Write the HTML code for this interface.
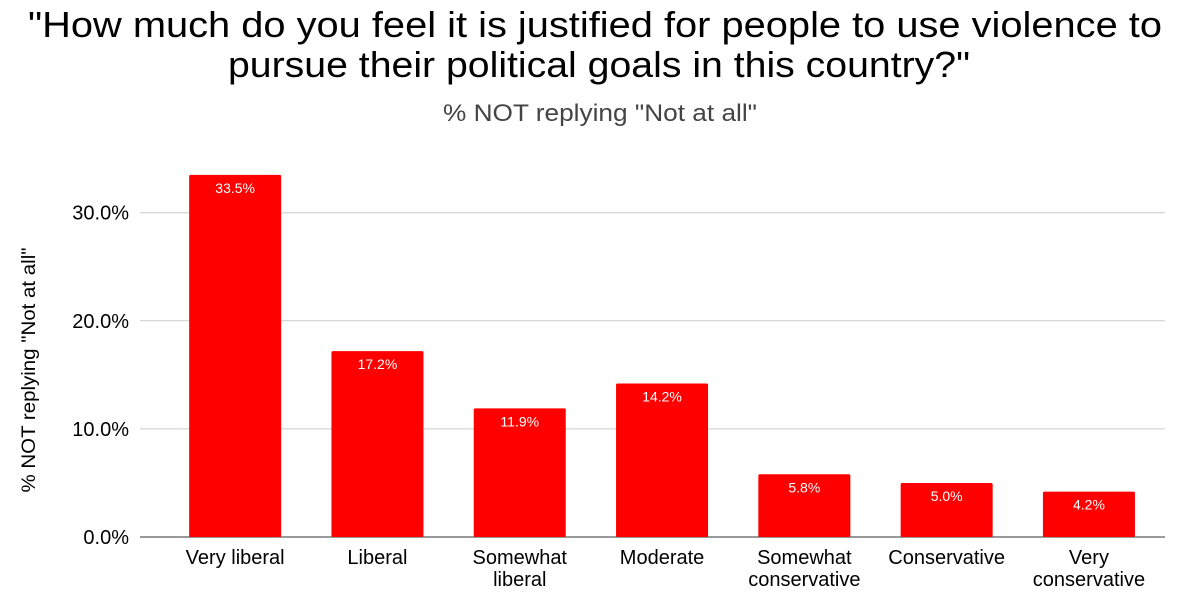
<!DOCTYPE html>
<html><head><meta charset="utf-8">
<style>
body{margin:0;background:#fff;width:1200px;height:595px;overflow:hidden;font-family:"Liberation Sans",Arial,sans-serif}
</style></head>
<body>
<svg id="chart" width="1200" height="595" xmlns="http://www.w3.org/2000/svg" font-family="Liberation Sans, Arial, sans-serif">
<text x="28" y="37" textLength="1134" lengthAdjust="spacingAndGlyphs" font-size="36" fill="#000">"How much do you feel it is justified for people to use violence to</text>
<text x="228" y="77" textLength="742" lengthAdjust="spacingAndGlyphs" font-size="36" fill="#000">pursue their political goals in this country?"</text>
<text x="443" y="121" textLength="314" lengthAdjust="spacingAndGlyphs" font-size="24" fill="#444">% NOT replying "Not at all"</text>
<text transform="translate(35,370) rotate(-90)" text-anchor="middle" font-size="19" textLength="245" lengthAdjust="spacingAndGlyphs" fill="#000">% NOT replying "Not at all"</text>
<g id="grid"></g><g id="bars"></g><g id="xlabels"></g>
</svg>
<script>
const categories=[["Very liberal"],["Liberal"],["Somewhat","liberal"],["Moderate"],["Somewhat","conservative"],["Conservative"],["Very","conservative"]];
const values=[33.5,17.2,11.9,14.2,5.8,5.0,4.2];
const ticks=[0,10,20,30];
const tickLabels=["0.0%","10.0%","20.0%","30.0%"];
const NS="http://www.w3.org/2000/svg";
const y0=537,pxPer=10.81,left=164,band=142.3,bw=92;
const y=v=>y0-v*pxPer;
const x=i=>left+band*i+band/2;
function mk(t,a,p){const e=document.createElementNS(NS,t);for(const k in a)e.setAttribute(k,a[k]);p.appendChild(e);return e;}
const grid=document.getElementById('grid');
ticks.forEach((t,i)=>{
  const l=mk('line',{x1:140,x2:1165,y1:y(t),y2:y(t),stroke:t===0?'#333':'#ccc','stroke-width':1},grid);
  
  
  const tx=mk('text',{x:129,y:y(t)+7,'text-anchor':'end','font-size':20,fill:'#000'},grid);
  tx.textContent=tickLabels[i];
  
  
});
const bars=document.getElementById('bars'),xl=document.getElementById('xlabels');
values.forEach((v,i)=>{
  const r=mk('rect',{x:x(i)-bw/2,y:y(v),width:bw,height:y0-y(v),fill:'#ff0000',rx:1.5},bars);
  
  
  const t=mk('text',{x:x(i),y:y(v)+18,'text-anchor':'middle','font-size':14,fill:'#fff'},bars);
  t.textContent=v.toFixed(1)+'%';
  
  
  categories[i].forEach((ln,j)=>{
    const c=mk('text',{x:x(i),y:564+j*22,'text-anchor':'middle','font-size':20,fill:'#000'},xl);
    c.textContent=ln;
    
    
  });
});
</script>
</body></html>
